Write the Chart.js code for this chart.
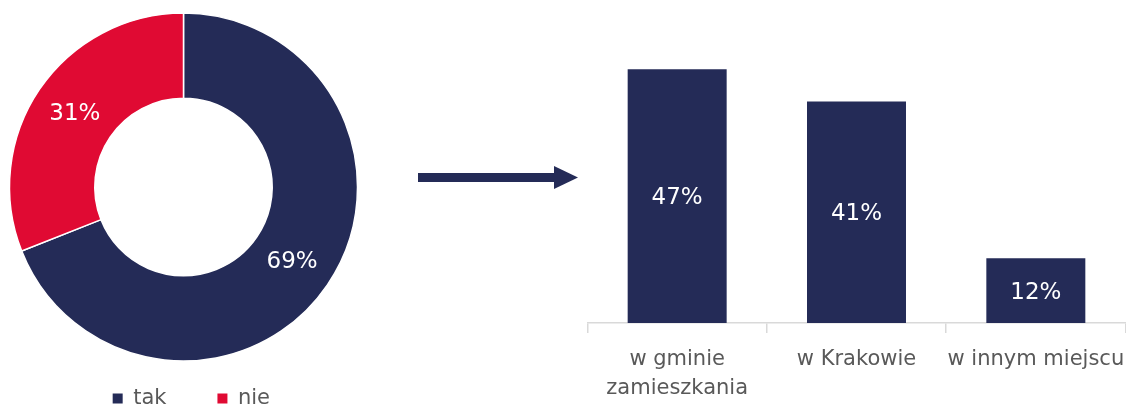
<!DOCTYPE html>
<html lang="pl">
<head>
<meta charset="utf-8">
<script src="https://cdn.jsdelivr.net/npm/chart.js@4/dist/chart.umd.min.js"></script>
<style>
  html, body { margin: 0; padding: 0; background: #fff; overflow: hidden; }
  body { width: 1126px; height: 409px; position: relative; }
  #pie-box { position: absolute; left: 0; top: 0; width: 367px; height: 419px; }
  #bar-box { position: absolute; left: 580px; top: 0; width: 546px; height: 409px; }
  #arrow { position: absolute; left: 0; top: 0; }
</style>
</head>
<body>
<div id="pie-box"><canvas id="pie"></canvas></div>
<svg id="arrow" width="600" height="409">
  <rect x="418" y="173" width="137" height="9" fill="#242b57"/>
  <polygon points="554,166 578,177.5 554,189" fill="#242b57"/>
</svg>
<div id="bar-box"><canvas id="bar"></canvas></div>
<script>
/* Answer split (left) */
const pieLabels = ['tak', 'nie'];
const pieValues = [69, 31];
const pieColors = ['#242b57', '#e00a33'];

/* Where (right) */
const barLabels = [['w gminie', 'zamieszkania'], 'w Krakowie', 'w innym miejscu'];
const barValues = [47, 41, 12];
const barColor = '#242b57';

const FONT = "'DejaVu Sans', Verdana, sans-serif";
const TEXT_GRAY = '#595959';

/* Writes "NN%" in white on each element of the first dataset */
const valueLabels = {
    id: 'valueLabels',
    afterDatasetsDraw(chart, args, opts) {
        const ctx = chart.ctx;
        const meta = chart.getDatasetMeta(0);
        const data = chart.data.datasets[0].data;
        ctx.save();
        ctx.font = `${opts.size}px ${FONT}`;
        ctx.fillStyle = '#fff';
        ctx.textAlign = 'center';
        ctx.textBaseline = 'middle';
        meta.data.forEach((el, i) => {
            let p;
            if (chart.config.type === 'bar') {
                p = { x: el.x, y: (el.y + el.base) / 2 };
            } else {
                p = el.tooltipPosition();
            }
            ctx.fillText(data[i] + '%', p.x, p.y + opts.dy);
        });
        ctx.restore();
    }
};

function makePie() {
    const ctx = document.getElementById('pie').getContext('2d');
    const defaultLabels = Chart.controllers.doughnut.overrides.plugins.legend.labels.generateLabels;
    return new Chart(ctx, {
        type: 'doughnut',
        data: {
            labels: pieLabels,
            datasets: [{
                data: pieValues,
                backgroundColor: pieColors,
                borderColor: '#fff',
                borderWidth: 1.5,
                clip: false
            }]
        },
        options: {
            responsive: true,
            maintainAspectRatio: false,
            animation: false,
            radius: 174,
            cutout: '51%',
            // chart area 46..321 wide, 37..337 high -> ring centred at (183.5, 187)
            layout: { padding: { top: 37, left: 46, right: 46, bottom: 0 } },
            plugins: {
                legend: {
                    position: 'bottom',
                    align: 'end',
                    labels: {
                        boxWidth: 10,
                        boxHeight: 10,
                        padding: 51,
                        color: TEXT_GRAY,
                        font: { family: FONT, size: 21 },
                        // solid squares, no white outline
                        generateLabels: chart => defaultLabels(chart).map(l => ({ ...l, lineWidth: 0 }))
                    }
                },
                tooltip: { enabled: false },
                valueLabels: { size: 23, dy: 1 }
            }
        },
        plugins: [valueLabels]
    });
}

function makeBar() {
    const ctx = document.getElementById('bar').getContext('2d');
    return new Chart(ctx, {
        type: 'bar',
        data: {
            labels: barLabels,
            datasets: [{
                data: barValues,
                backgroundColor: barColor,
                barPercentage: 0.552,
                categoryPercentage: 1
            }]
        },
        options: {
            responsive: true,
            maintainAspectRatio: false,
            animation: false,
            layout: { padding: { top: 53, left: 7.5, right: 0.5, bottom: 0 } },
            scales: {
                x: {
                    grid: {
                        offset: true,
                        drawOnChartArea: false,
                        tickLength: 10,
                        color: '#d9d9d9',
                        lineWidth: 1.5
                    },
                    border: { color: '#d9d9d9', width: 1.5 },
                    ticks: {
                        color: TEXT_GRAY,
                        padding: 12,
                        maxRotation: 0,
                        autoSkip: false,
                        font: { family: FONT, size: 21, lineHeight: '29px' }
                    },
                    afterFit: s => {
                        s.height = 86;
                        s.paddingLeft = 0;
                        s.paddingRight = 0;
                    }
                },
                y: { display: false, min: 0, max: 50 }
            },
            plugins: {
                legend: { display: false },
                tooltip: { enabled: false },
                valueLabels: { size: 23, dy: 2 }
            }
        },
        plugins: [valueLabels]
    });
}

window.addEventListener('load', () => {
    makePie();
    makeBar();
});
</script>
</body>
</html>
